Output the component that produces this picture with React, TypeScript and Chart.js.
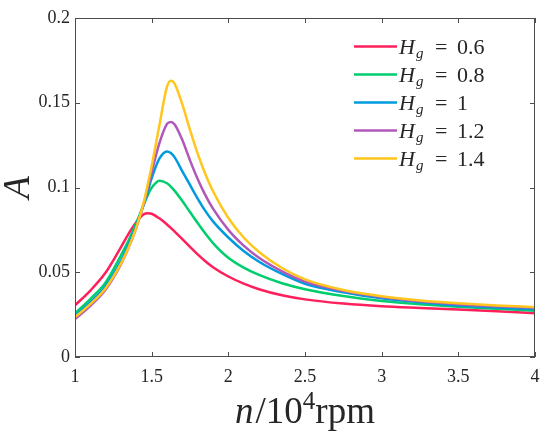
import { useEffect, useRef } from "react";
import { Chart, registerables, type Plugin } from "chart.js";

Chart.register(...registerables);

const nValues = [1, 1.1, 1.2, 1.3, 1.35, 1.4, 1.45, 1.475, 1.5, 1.55, 1.6, 1.625, 1.65, 1.7, 1.75, 1.8, 1.85, 1.9, 2, 2.1, 2.2, 2.35, 2.5, 2.75, 3, 3.25, 3.5, 3.75, 4];

const hg06 = [0.0305, 0.0392, 0.0498, 0.0648, 0.0728, 0.0797, 0.0843, 0.0848, 0.0845, 0.0818, 0.0782, 0.0762, 0.074, 0.0695, 0.065, 0.0605, 0.0565, 0.053, 0.0475, 0.0433, 0.04, 0.0364, 0.034, 0.0315, 0.0299, 0.0289, 0.028, 0.027, 0.0258];
const hg08 = [0.0258, 0.0342, 0.044, 0.06, 0.0688, 0.0792, 0.0903, 0.0955, 0.0998, 0.104, 0.1025, 0.1005, 0.098, 0.092, 0.0855, 0.079, 0.0728, 0.0672, 0.0585, 0.0527, 0.0484, 0.0435, 0.04, 0.036, 0.033, 0.0311, 0.0296, 0.0285, 0.0273];
const hg10 = [0.0242, 0.0322, 0.0418, 0.0567, 0.0662, 0.0776, 0.0905, 0.098, 0.1055, 0.117, 0.1213, 0.1203, 0.1178, 0.1095, 0.1015, 0.0935, 0.0862, 0.08, 0.0705, 0.0625, 0.0562, 0.049, 0.0432, 0.0382, 0.0346, 0.0323, 0.0304, 0.0292, 0.0281];
const hg12 = [0.0224, 0.0302, 0.0398, 0.0548, 0.0646, 0.0764, 0.091, 0.1, 0.109, 0.126, 0.1375, 0.1387, 0.1372, 0.128, 0.116, 0.105, 0.0955, 0.0875, 0.075, 0.0657, 0.0585, 0.0505, 0.0445, 0.039, 0.0354, 0.0329, 0.0311, 0.0299, 0.029];
const hg14 = [0.0235, 0.0312, 0.0406, 0.0552, 0.0648, 0.0765, 0.0918, 0.102, 0.1125, 0.1365, 0.1595, 0.163, 0.1612, 0.149, 0.134, 0.12, 0.108, 0.0978, 0.082, 0.0705, 0.062, 0.0525, 0.0458, 0.0395, 0.0358, 0.0334, 0.0317, 0.0304, 0.0294];

const seriesLabels = ["0.6", "0.8", "1", "1.2", "1.4"];
const seriesValues = [hg06, hg08, hg10, hg12, hg14];
const seriesColors = ["#ff1f5b", "#00cd6c", "#009ade", "#af58ba", "#ffc61e"];

const xTicks = [1, 1.5, 2, 2.5, 3, 3.5, 4];
const yTicks = [0, 0.05, 0.1, 0.15, 0.2];

const SERIF = "'Liberation Serif', 'DejaVu Serif', serif";
const INK = "#262626";

const fmt = (v: number | string) => String(Number(Number(v).toFixed(3)));

// frame, inward ticks, axis titles and legend
const decorPlugin: Plugin<"line"> = {
  id: "decor",
  afterDraw(chart) {
    const { ctx, chartArea: a, scales } = chart;
    const tl = 5;
    ctx.save();
    ctx.strokeStyle = "#4d4d4d";
    ctx.lineWidth = 1;
    ctx.strokeRect(a.left + 0.5, a.top + 0.5, a.right - a.left - 1, a.bottom - a.top - 1);
    ctx.beginPath();
    xTicks.forEach((v) => {
      const px = Math.round(scales.x.getPixelForValue(v)) + 0.5;
      ctx.moveTo(px, a.bottom);
      ctx.lineTo(px, a.bottom - tl);
      ctx.moveTo(px, a.top);
      ctx.lineTo(px, a.top + tl);
    });
    yTicks.forEach((v) => {
      const py = Math.round(scales.y.getPixelForValue(v)) + 0.5;
      ctx.moveTo(a.left, py);
      ctx.lineTo(a.left + tl, py);
      ctx.moveTo(a.right, py);
      ctx.lineTo(a.right - tl, py);
    });
    ctx.stroke();

    // x title: n/10^4 rpm
    ctx.fillStyle = INK;
    ctx.textBaseline = "alphabetic";
    const parts = [
      { t: "n", f: `italic 37px ${SERIF}`, dy: 0, gap: 2 },
      { t: "/10", f: `37px ${SERIF}`, dy: 0, gap: 0 },
      { t: "4", f: `25px ${SERIF}`, dy: -14, gap: 0 },
      { t: "rpm", f: `37px ${SERIF}`, dy: 0, gap: 0 },
    ];
    let total = 0;
    parts.forEach((p) => {
      ctx.font = p.f;
      total += ctx.measureText(p.t).width + p.gap;
    });
    let x = (a.left + a.right) / 2 - total / 2;
    parts.forEach((p) => {
      ctx.font = p.f;
      ctx.fillText(p.t, x, 423 + p.dy);
      x += ctx.measureText(p.t).width + p.gap;
    });

    // y title: A
    ctx.save();
    ctx.translate(19, (a.top + a.bottom) / 2);
    ctx.rotate(-Math.PI / 2);
    ctx.font = `italic 37px ${SERIF}`;
    ctx.textAlign = "center";
    ctx.textBaseline = "middle";
    ctx.fillText("A", 0, 0);
    ctx.restore();

    // legend
    seriesLabels.forEach((lab, i) => {
      const y = 46.5 + i * 28;
      ctx.strokeStyle = seriesColors[i];
      ctx.lineWidth = 2.5;
      ctx.beginPath();
      ctx.moveTo(354, y);
      ctx.lineTo(397, y);
      ctx.stroke();
      const base = y + 7.5;
      ctx.fillStyle = INK;
      ctx.font = `italic 22px ${SERIF}`;
      ctx.fillText("H", 399, base);
      ctx.font = `italic 15px ${SERIF}`;
      ctx.fillText("g", 416, base + 4);
      ctx.font = `22px ${SERIF}`;
      ctx.fillText("=", 435, base);
      ctx.fillText(lab, 457, base);
    });
    ctx.restore();
  },
};

const App = () => {
  const canvasRef = useRef<HTMLCanvasElement | null>(null);
  const chartRef = useRef<Chart<"line"> | null>(null);

  useEffect(() => {
    if (!canvasRef.current) return;
    chartRef.current = new Chart(canvasRef.current, {
      type: "line",
      data: {
        datasets: seriesValues.map((vals, i) => ({
          label: "Hg = " + seriesLabels[i],
          data: nValues.map((n, k) => ({ x: n, y: vals[k] })),
          borderColor: seriesColors[i],
          backgroundColor: seriesColors[i],
          borderWidth: 2.5,
          pointRadius: 0,
          cubicInterpolationMode: "monotone" as const,
          order: seriesValues.length - 1 - i,
        })),
      },
      options: {
        animation: false,
        responsive: true,
        maintainAspectRatio: false,
        layout: { padding: { top: 18, right: 15, left: 0, bottom: 0 } },
        plugins: {
          legend: { display: false },
          tooltip: { enabled: false },
        },
        scales: {
          x: {
            type: "linear",
            min: 1,
            max: 4,
            grid: { display: false, drawTicks: false },
            border: { display: false },
            ticks: {
              stepSize: 0.5,
              padding: 9,
              color: INK,
              font: { family: SERIF, size: 18 },
              callback: (v) => fmt(v),
            },
            afterFit: (s) => {
              s.height = 79;
            },
          },
          y: {
            min: 0,
            max: 0.2,
            grid: { display: false, drawTicks: false },
            border: { display: false },
            ticks: {
              stepSize: 0.05,
              padding: 5,
              color: INK,
              font: { family: SERIF, size: 18 },
              callback: (v) => fmt(v),
            },
            afterFit: (s) => {
              s.width = 75;
            },
          },
        },
      },
      plugins: [decorPlugin],
    });
    return () => {
      chartRef.current?.destroy();
      chartRef.current = null;
    };
  }, []);

  return (
    <div style={{ position: "absolute", left: 0, top: 0, width: 550, height: 436, background: "#fff" }}>
      <canvas ref={canvasRef} />
    </div>
  );
};

export default App;
